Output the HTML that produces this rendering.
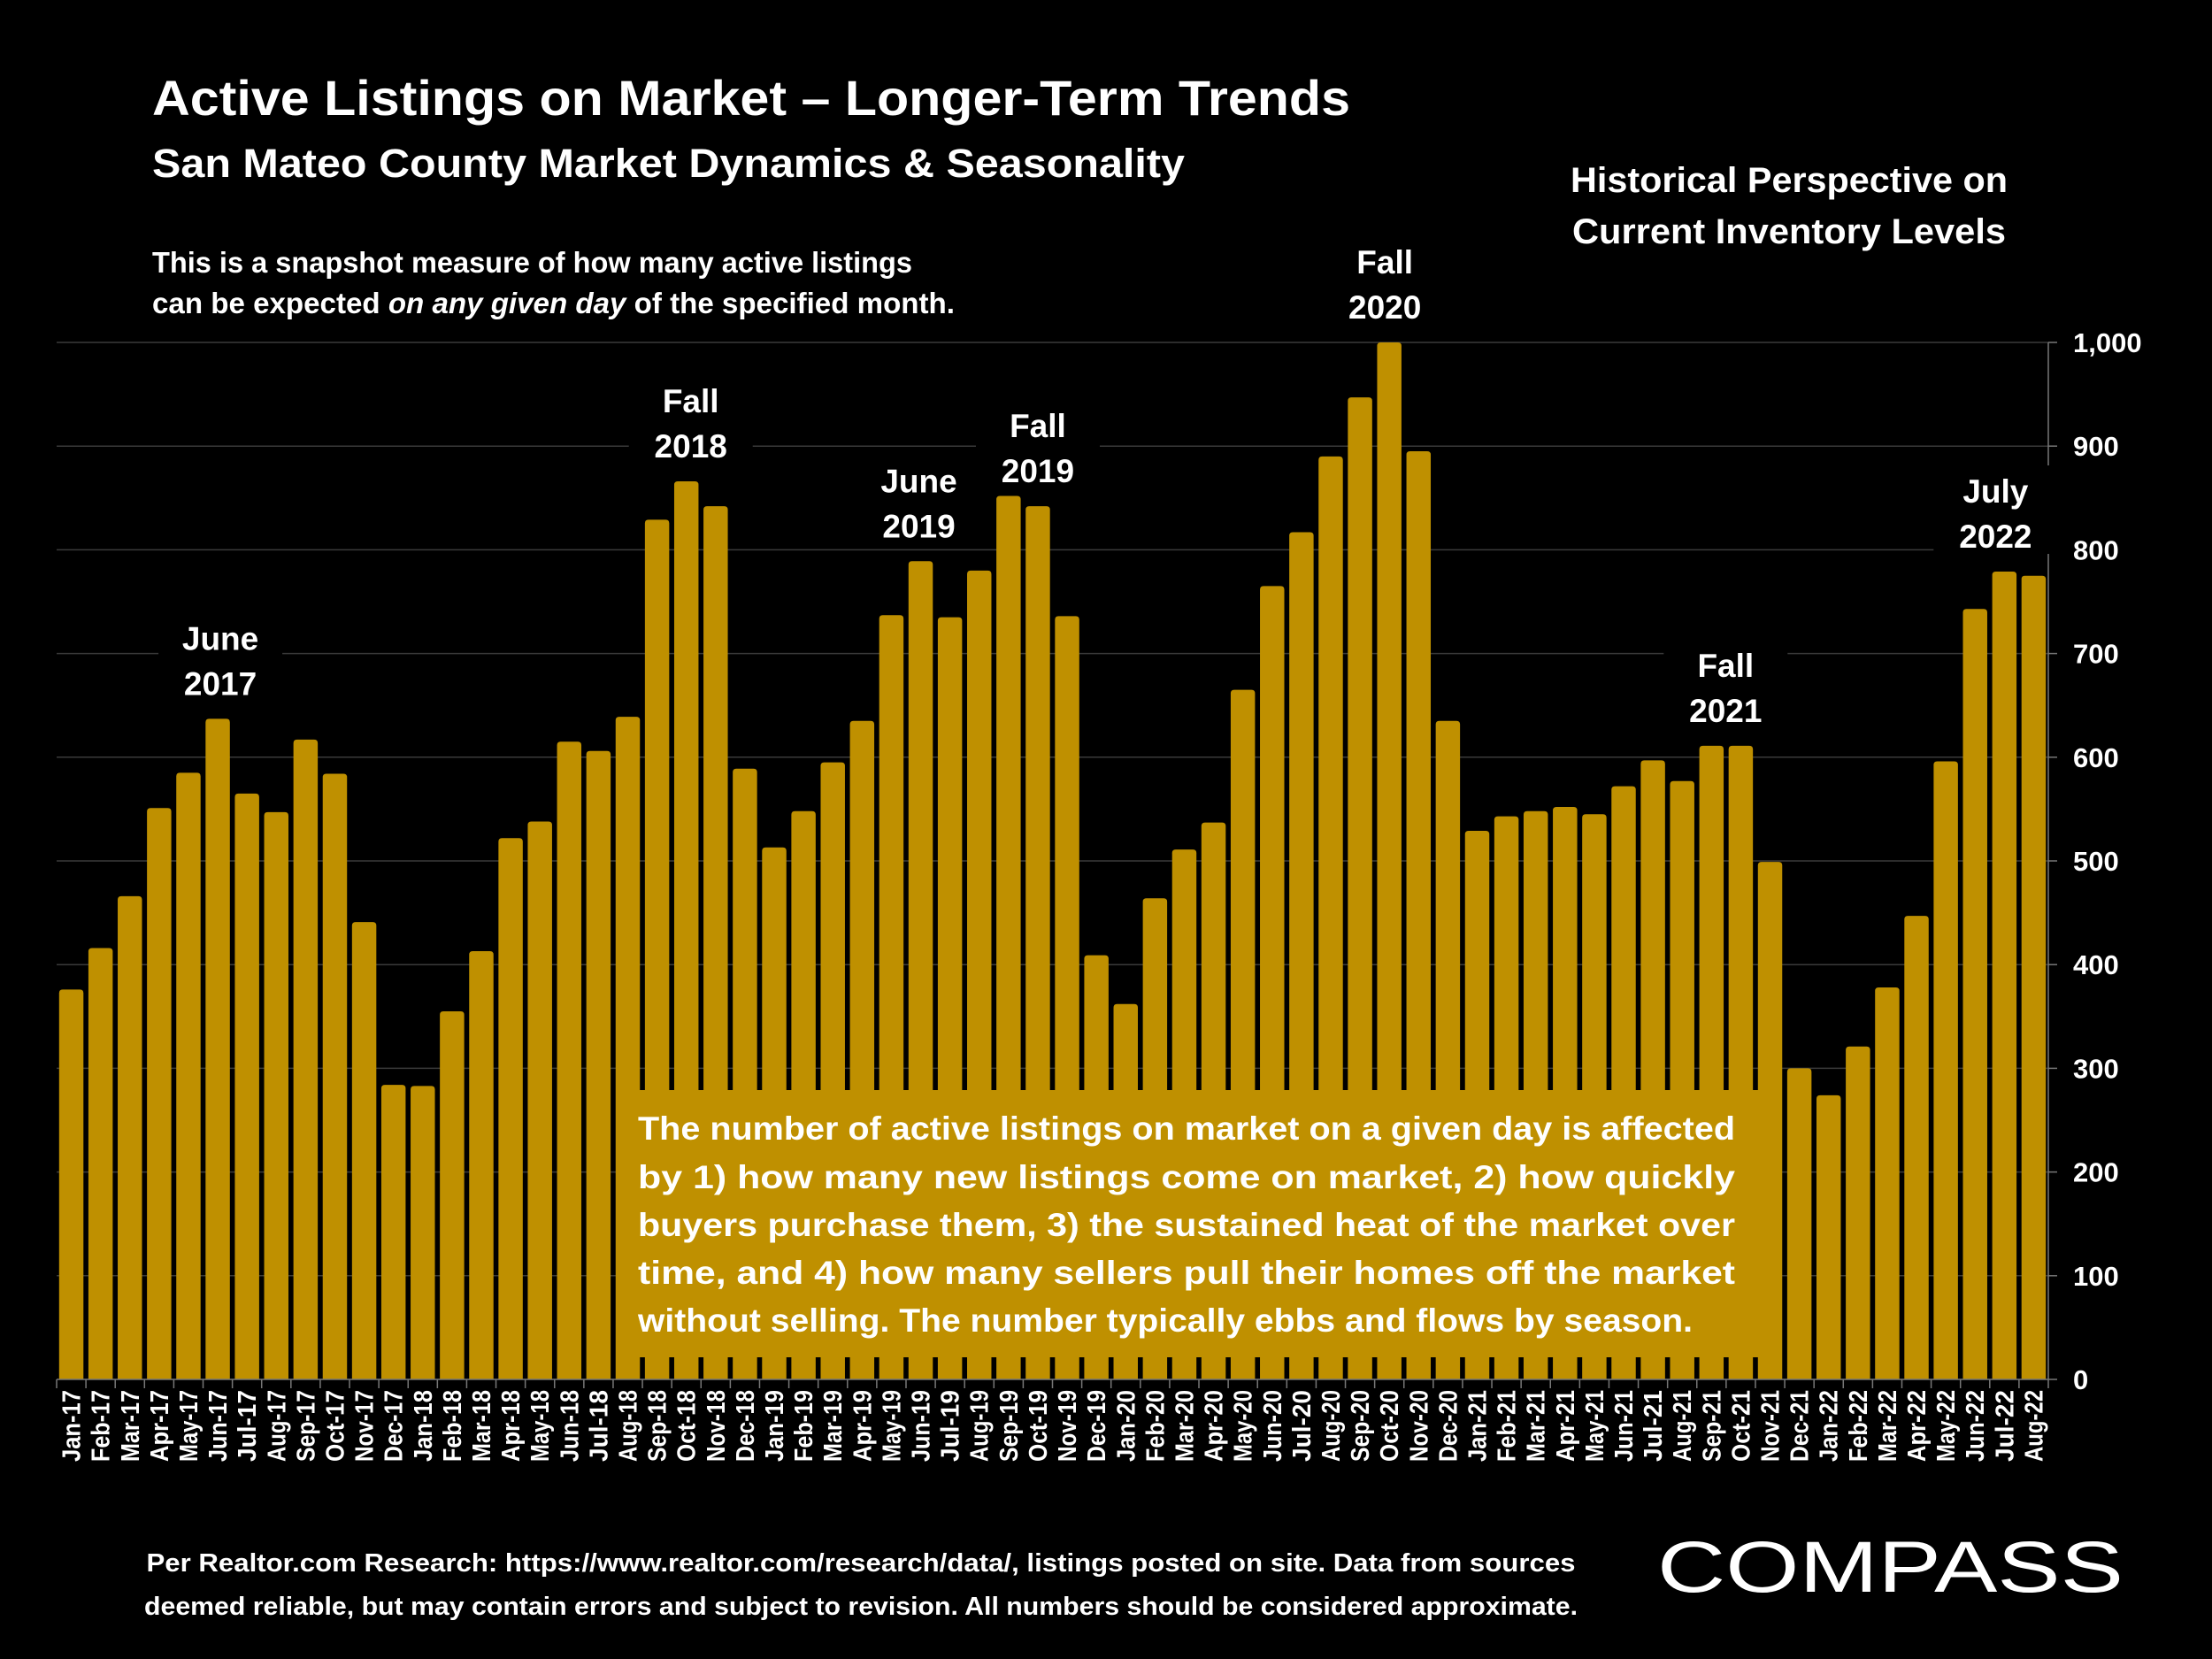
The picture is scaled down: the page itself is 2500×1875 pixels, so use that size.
<!DOCTYPE html>
<html><head><meta charset="utf-8"><style>
html,body{margin:0;padding:0;background:#000;}
svg{display:block;font-family:"Liberation Sans",sans-serif;}
</style></head><body>
<svg id="chart" width="2500" height="1875" viewBox="0 0 2500 1875" xmlns="http://www.w3.org/2000/svg">
<rect width="2500" height="1875" fill="#000"/>
<text x="172" y="130" fill="#fff" font-weight="bold" font-size="56" textLength="1354" lengthAdjust="spacingAndGlyphs">Active Listings on Market – Longer-Term Trends</text>
<text x="172" y="200" fill="#fff" font-weight="bold" font-size="45" textLength="1167" lengthAdjust="spacingAndGlyphs">San Mateo County Market Dynamics &amp; Seasonality</text>
<text x="172" y="308" fill="#fff" font-weight="bold" font-size="33" textLength="859" lengthAdjust="spacingAndGlyphs">This is a snapshot measure of how many active listings</text>
<text x="172" y="354" fill="#fff" font-weight="bold" font-size="33" textLength="907" lengthAdjust="spacingAndGlyphs">can be expected <tspan font-style="italic">on any given day</tspan> of the specified month.</text>
<text x="2022" y="217" fill="#fff" font-weight="bold" font-size="40" text-anchor="middle" textLength="494" lengthAdjust="spacingAndGlyphs">Historical Perspective on</text>
<text x="2022" y="275" fill="#fff" font-weight="bold" font-size="40" text-anchor="middle" textLength="490" lengthAdjust="spacingAndGlyphs">Current Inventory Levels</text>
<g id="grid"></g><g id="bars"></g><g id="axes"></g><g id="annots"></g>
<g>
<rect x="697" y="1232" width="1293" height="302" fill="#BF9000"/>
<g fill="#fff" font-weight="bold" font-size="37">
<text x="721" y="1288" textLength="1240" lengthAdjust="spacingAndGlyphs">The number of active listings on market on a given day is affected</text>
<text x="721" y="1343" textLength="1240" lengthAdjust="spacingAndGlyphs">by 1) how many new listings come on market, 2) how quickly</text>
<text x="721" y="1397" textLength="1240" lengthAdjust="spacingAndGlyphs">buyers purchase them, 3) the sustained heat of the market over</text>
<text x="721" y="1451" textLength="1240" lengthAdjust="spacingAndGlyphs">time, and 4) how many sellers pull their homes off the market</text>
<text x="721" y="1505" textLength="1192" lengthAdjust="spacingAndGlyphs">without selling. The number typically ebbs and flows by season.</text>
</g></g>
<text x="973" y="1776" fill="#fff" font-weight="bold" font-size="29" text-anchor="middle" textLength="1615" lengthAdjust="spacingAndGlyphs">Per Realtor.com Research:  https://www.realtor.com/research/data/, listings posted on site. Data from sources</text>
<text x="973" y="1825" fill="#fff" font-weight="bold" font-size="29" text-anchor="middle" textLength="1620" lengthAdjust="spacingAndGlyphs">deemed reliable, but may contain errors and subject to revision. All numbers should be considered approximate.</text>
<text x="1873" y="1799" fill="#fff" font-size="82" textLength="527" lengthAdjust="spacingAndGlyphs">COMPASS</text>
</svg>
<script>
const categories=["Jan-17","Feb-17","Mar-17","Apr-17","May-17","Jun-17","Jul-17","Aug-17","Sep-17","Oct-17","Nov-17","Dec-17","Jan-18","Feb-18","Mar-18","Apr-18","May-18","Jun-18","Jul-18","Aug-18","Sep-18","Oct-18","Nov-18","Dec-18","Jan-19","Feb-19","Mar-19","Apr-19","May-19","Jun-19","Jul-19","Aug-19","Sep-19","Oct-19","Nov-19","Dec-19","Jan-20","Feb-20","Mar-20","Apr-20","May-20","Jun-20","Jul-20","Aug-20","Sep-20","Oct-20","Nov-20","Dec-20","Jan-21","Feb-21","Mar-21","Apr-21","May-21","Jun-21","Jul-21","Aug-21","Sep-21","Oct-21","Nov-21","Dec-21","Jan-22","Feb-22","Mar-22","Apr-22","May-22","Jun-22","Jul-22","Aug-22"];
const listings=[376,416,466,551,585,637,565,547,617,584,441,284,283,355,413,522,538,615,606,639,829,866,842,589,513,548,595,635,737,789,735,780,852,842,736,409,362,464,511,537,665,765,817,890,947,1000,895,635,529,543,548,552,545,572,597,577,611,611,499,300,274,321,378,447,596,743,779,775];
const yTicks=[0,100,200,300,400,500,600,700,800,900,1000];
const yTickLabels=["0","100","200","300","400","500","600","700","800","900","1,000"];
const annotLines=[["June","2017"],["Fall","2018"],["June","2019"],["Fall","2019"],["Fall","2020"],["Fall","2021"],["July","2022"]];
const annotIndex=[5,21,29,33,45,56,66];

const NS="http://www.w3.org/2000/svg";
const X0=64,X1=2315,Y0=1559,Y1=387,VMAX=1000;
const annotDx=[3,5,-2,0,-5,16,-10];
const slot=(X1-X0)/categories.length;
const yS=v=>Y0-(v/VMAX)*(Y0-Y1);
const xS=i=>X0+i*slot;
function mk(tag,attrs,parent){const e=document.createElementNS(NS,tag);for(const k in attrs)e.setAttribute(k,attrs[k]);parent.appendChild(e);return e;}
const grid=document.getElementById('grid'),bars=document.getElementById('bars'),axes=document.getElementById('axes'),ann=document.getElementById('annots');
yTicks.forEach((t,i)=>{
  if(t>0){const g=mk('line',{x1:X0,x2:X1,y1:yS(t),y2:yS(t),stroke:'#3a3a3a','stroke-width':1.5},grid);
  
  }
  mk('line',{x1:X1,x2:X1+10,y1:yS(t),y2:yS(t),stroke:'#777','stroke-width':1.5},axes);
  const l=mk('text',{x:2343,y:yS(t)+11,fill:'#fff','font-weight':'bold','font-size':31},axes);
  l.textContent=yTickLabels[i];
  
  
});
mk('line',{x1:X1,x2:X1,y1:Y1,y2:Y0,stroke:'#777','stroke-width':1.5},axes);
mk('line',{x1:X0,x2:X1,y1:Y0,y2:Y0,stroke:'#777','stroke-width':1.5},axes);
categories.forEach((c,i)=>{
  const bw=slot*0.83,x=xS(i)+(slot-bw)/2,y=yS(listings[i]);
  const b=mk('path',{d:`M${x},${Y0}V${y+4}Q${x},${y} ${x+4},${y}H${x+bw-4}Q${x+bw},${y} ${x+bw},${y+4}V${Y0}Z`,fill:'#BF9000'},bars);
  
  
  mk('line',{x1:xS(i),x2:xS(i),y1:Y0,y2:Y0+10,stroke:'#777','stroke-width':1.5},axes);
  const cx=xS(i)+slot/2+10;
  const t=mk('text',{x:cx,y:Y0+12,fill:'#fff','font-weight':'bold','font-size':29,'text-anchor':'end',transform:`rotate(-90 ${cx} ${Y0+12})`,textLength:c.length*13.5,lengthAdjust:'spacingAndGlyphs'},axes);
  t.textContent=c;
  
  
});
mk('line',{x1:X1,x2:X1,y1:Y0,y2:Y0+10,stroke:'#777','stroke-width':1.5},axes);
annotLines.forEach((ls,k)=>{
  const cx=xS(annotIndex[k])+slot/2+annotDx[k];
  const top=yS(listings[annotIndex[k]])-12;
  const g=mk('g',{},ann);
  
  
  mk('rect',{x:cx-70,y:top-108,width:140,height:100,fill:'#000'},g);
  ls.forEach((s,j)=>{const t=mk('text',{x:cx,y:top-66+j*51,fill:'#fff','font-weight':'bold','font-size':37,'text-anchor':'middle'},g);t.textContent=s;});
});
</script>
</body></html>
